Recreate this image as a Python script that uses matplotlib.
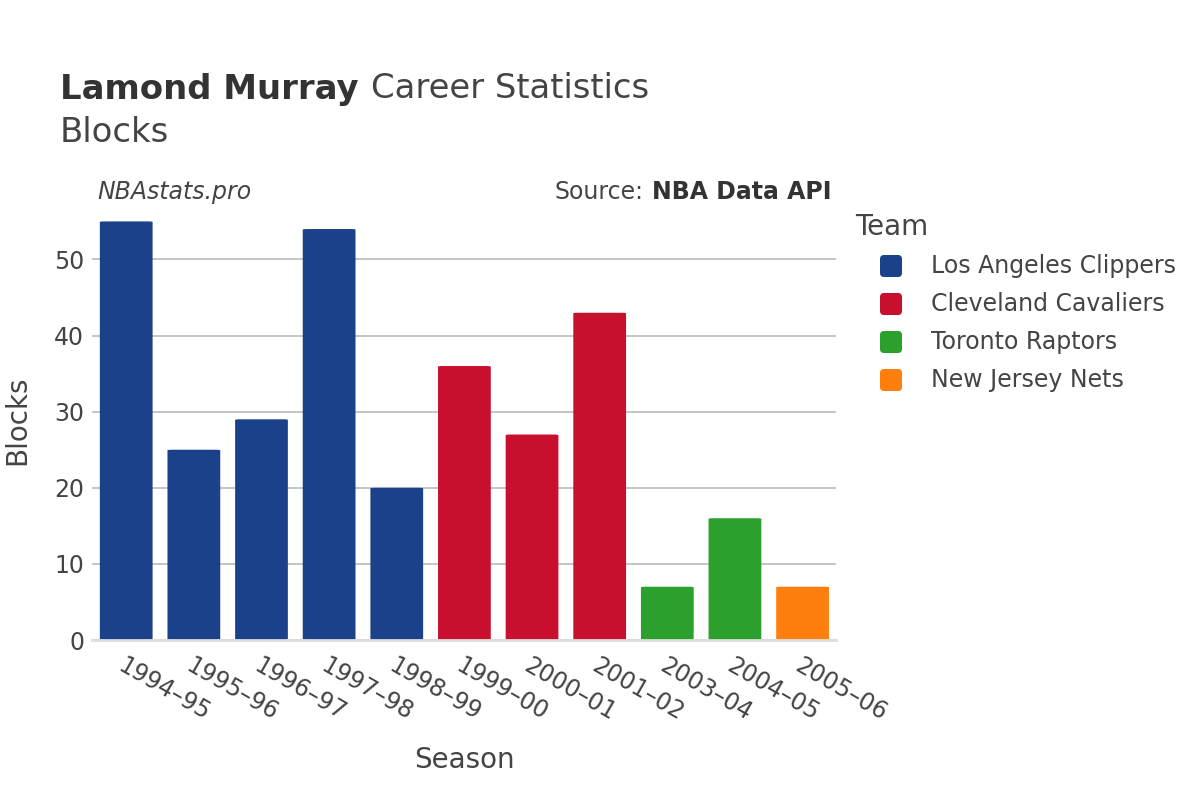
import matplotlib.pyplot as plt
from matplotlib.patches import FancyBboxPatch
from matplotlib.transforms import IdentityTransform

# data
seasons = ['1994–95', '1995–96', '1996–97', '1997–98', '1998–99', '1999–00',
           '2000–01', '2001–02', '2003–04', '2004–05', '2005–06']
blocks = [55, 25, 29, 54, 20, 36, 27, 43, 7, 16, 7]
teams = ['Los Angeles Clippers'] * 5 + ['Cleveland Cavaliers'] * 3 + \
        ['Toronto Raptors'] * 2 + ['New Jersey Nets']
team_order = ['Los Angeles Clippers', 'Cleveland Cavaliers', 'Toronto Raptors', 'New Jersey Nets']
team_colors = {
    'Los Angeles Clippers': '#1a4189',
    'Cleveland Cavaliers': '#c8102e',
    'Toronto Raptors': '#2ca02c',
    'New Jersey Nets': '#ff7f0e',
}

txt = '#444444'
plt.rcParams['font.family'] = ['DejaVu Sans']

W, H = 1200, 800
fig = plt.figure(figsize=(12, 8), dpi=100)
ax = fig.add_axes([0.077, 0.2, 0.62, 0.5375])


def px(x, y):
    # pixel coords from the top-left -> figure fraction
    return x / W, 1 - y / H


width = 0.78
bars = ax.bar(range(len(seasons)), blocks, width=width,
              color=[team_colors[t] for t in teams], zorder=2)

# swap plain bars for slightly rounded ones
for b in bars:
    x, y = b.get_x(), b.get_y()
    w, h = b.get_width(), b.get_height()
    b.set_visible(False)
    p = FancyBboxPatch((x, y), w, h, boxstyle='round,pad=0,rounding_size=0.07',
                       mutation_aspect=7.6 / 67.6 * 10,
                       facecolor=b.get_facecolor(), edgecolor='none', zorder=2)
    ax.add_patch(p)

ax.set_xlim(-0.5, len(seasons) - 0.5)
ax.set_ylim(0, 56.5)
ax.set_yticks([0, 10, 20, 30, 40, 50])
ax.yaxis.grid(True, color='#bbbbbb', linewidth=1.2, zorder=0)
ax.set_axisbelow(True)
for s in ['top', 'right', 'left']:
    ax.spines[s].set_visible(False)
ax.spines['bottom'].set_color('#dddddd')
ax.spines['bottom'].set_linewidth(2)
ax.tick_params(axis='both', length=0, labelsize=17, labelcolor=txt)
ax.tick_params(axis='y', pad=6)
ax.tick_params(axis='x', pad=10)
ax.set_xticks(range(len(seasons)))
ax.set_xticklabels(seasons, rotation=-30, ha='left', rotation_mode='anchor')

fig.text(*px(17, 420), 'Blocks', rotation=90, fontsize=20, color=txt, va='center', ha='center')
fig.text(*px(464, 760), 'Season', fontsize=20, color=txt, ha='center', va='center')

renderer = fig.canvas.get_renderer()

# title: bold name then regular text right after it
t1 = fig.text(*px(60, 89), 'Lamond Murray', fontsize=24.4, color='#333333',
              va='center', fontweight='bold')
bb = t1.get_window_extent(renderer)
fig.text((bb.x1 + 12) / W, 1 - 89 / H, 'Career Statistics', fontsize=24.4,
         color='#444444', va='center')
fig.text(*px(60, 132), 'Blocks', fontsize=24.4, color='#444444', va='center')

fig.text(*px(97, 192), 'NBAstats.pro', fontsize=17, style='italic', color=txt, va='center')
s2 = fig.text(*px(832, 192), 'NBA Data API', fontsize=17, fontweight='bold',
              color='#333333', va='center', ha='right')
bb = s2.get_window_extent(renderer)
fig.text((bb.x0 - 9) / W, 1 - 192 / H, 'Source:', fontsize=17, color=txt,
         va='center', ha='right')

# legend, drawn by hand to get rounded swatches
fig.text(*px(855, 227), 'Team', fontsize=20, color=txt, va='center')
for i, t in enumerate(team_order):
    yc = 266 + 38 * i
    sw = FancyBboxPatch((880, H - yc - 11), 22, 22,
                        boxstyle='round,pad=0,rounding_size=4',
                        transform=IdentityTransform(), facecolor=team_colors[t],
                        edgecolor='none')
    fig.patches.append(sw)
    fig.text(*px(931, yc), t, fontsize=17, color=txt, va='center')

fig.savefig('out.png', dpi=100)
